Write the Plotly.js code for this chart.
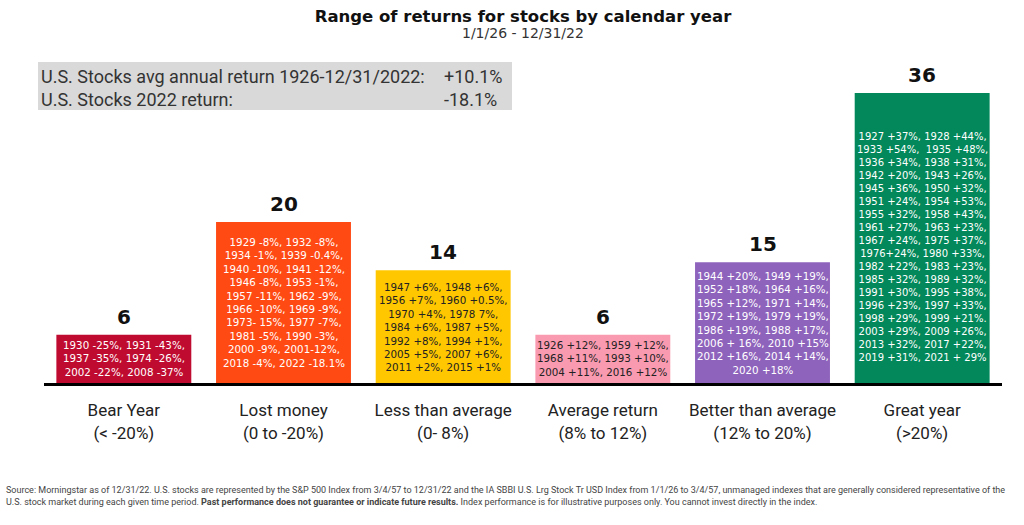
<!DOCTYPE html>
<html>
<head>
<meta charset="utf-8">
<script src="https://cdn.plot.ly/plotly-3.0.1.min.js"></script>
<style>html,body{margin:0;padding:0;background:#fff;}#chart{width:1024px;height:525px;}</style>
</head>
<body>
<div id="chart"></div>
<script>
// ---- data ----
const categories = ["Bear Year", "Lost money", "Less than average", "Average return", "Better than average", "Great year"];
const ranges = ["(< -20%)", "(0 to -20%)", "(0- 8%)", "(8% to 12%)", "(12% to 20%)", "(>20%)"];
const counts = [6, 20, 14, 6, 15, 36];
const yearLists = [
  ["1930 -25%, 1931 -43%,", "1937 -35%, 1974 -26%,", "2002 -22%, 2008 -37%"],
  ["1929 -8%, 1932 -8%,", "1934 -1%, 1939 -0.4%,", "1940 -10%, 1941 -12%,", "1946 -8%, 1953 -1%,", "1957 -11%, 1962 -9%,", "1966 -10%, 1969 -9%,", "1973- 15%, 1977 -7%,", "1981 -5%, 1990 -3%,", "2000 -9%, 2001-12%,", "2018 -4%, 2022 -18.1%"],
  ["1947 +6%, 1948 +6%,", "1956 +7%, 1960 +0.5%,", "1970 +4%, 1978 7%,", "1984 +6%, 1987 +5%,", "1992 +8%, 1994 +1%,", "2005 +5%, 2007 +6%,", "2011 +2%, 2015 +1%"],
  ["1926 +12%, 1959 +12%,", "1968 +11%, 1993 +10%,", "2004 +11%, 2016 +12%"],
  ["1944 +20%, 1949 +19%,", "1952 +18%, 1964 +16%,", "1965 +12%, 1971 +14%,", "1972 +19%, 1979 +19%,", "1986 +19%, 1988 +17%,", "2006 + 16%, 2010 +15%", "2012 +16%, 2014 +14%,", "2020 +18%"],
  ["1927 +37%, 1928 +44%,", "1933 +54%,  1935 +48%,", "1936 +34%, 1938 +31%,", "1942 +20%, 1943 +26%,", "1945 +36%, 1950 +32%,", "1951 +24%, 1954 +53%,", "1955 +32%, 1958 +43%,", "1961 +27%, 1963 +23%,", "1967 +24%, 1975 +37%,", "1976+24%, 1980 +33%,", "1982 +22%, 1983 +23%,", "1985 +32%, 1989 +32%,", "1991 +30%, 1995 +38%,", "1996 +23%, 1997 +33%,", "1998 +29%, 1999 +21%.", "2003 +29%, 2009 +26%,", "2013 +32%, 2017 +22%,", "2019 +31%, 2021 + 29%"]
];
const infoLabels = ["U.S. Stocks avg annual return 1926-12/31/2022:", "U.S. Stocks 2022 return:"];
const infoValues = ["+10.1%", "-18.1%"];
const titleText = "Range of returns for stocks by calendar year";
const subtitleText = "1/1/26 - 12/31/22";
const footerLines = [
  "Source: Morningstar as of 12/31/22. U.S. stocks are represented by the S&P 500 Index from 3/4/57 to 12/31/22 and the IA SBBI U.S. Lrg Stock Tr USD Index from 1/1/26 to 3/4/57, unmanaged indexes that are generally considered representative of the",
  "U.S. stock market during each given time period. <b>Past performance does not guarantee or indicate future results.</b> Index performance is for illustrative purposes only. You cannot invest directly in the index."
];

// ---- styling ----
const barColors = ["#C00B30", "#FF4A14", "#FFC700", "#F99AB0", "#8E63BC", "#02885A"];
const textColors = ["#ffffff", "#ffffff", "#222222", "#222222", "#ffffff", "#ffffff"];

const W = 1024, H = 525;
const M = {l: 44, r: 22, t: 93, b: 142};
const pw = W - M.l - M.r, ph = H - M.t - M.b;
const px = x => (x - M.l) / pw;
const py = y => (H - M.b - y) / ph;

const trace = {
  type: "bar",
  x: categories,
  y: counts,
  marker: {color: barColors, line: {width: 0}},
  hoverinfo: "none"
};

const annotations = [];
categories.forEach((c, i) => {
  annotations.push({
    x: c, y: counts[i], xref: "x", yref: "y",
    text: "<b>" + counts[i] + "</b>", showarrow: false,
    yanchor: "bottom", yshift: 4,
    font: {family: "DejaVu Sans", size: 20, color: "#111"}
  });
  annotations.push({
    x: c, y: counts[i] / 2, xref: "x", yref: "y",
    text: yearLists[i].join("<br>"), showarrow: false,
    yanchor: "middle", yshift: i === 5 ? -9 : 0,
    font: {family: "DejaVu Sans", size: i === 5 ? 10 : 10.3, color: textColors[i]}
  });
});
annotations.push({
  x: 0.5, y: py(33), xref: "paper", yref: "paper", text: subtitleText, showarrow: false,
  xanchor: "center", yanchor: "middle",
  font: {family: "DejaVu Sans", size: 14, color: "#333"}
});
infoLabels.forEach((t, i) => {
  const yy = [76, 99][i];
  annotations.push({
    x: px(39), y: py(yy), xref: "paper", yref: "paper", text: t, showarrow: false,
    xanchor: "left", yanchor: "middle",
    font: {family: "Roboto", size: 18, color: "#333"}
  });
  annotations.push({
    x: px(442), y: py(yy), xref: "paper", yref: "paper", text: infoValues[i], showarrow: false,
    xanchor: "left", yanchor: "middle",
    font: {family: "Roboto", size: 18, color: "#333"}
  });
});
annotations.push({
  x: px(4), y: py(483), xref: "paper", yref: "paper", text: footerLines.join("<br>"), showarrow: false,
  xanchor: "left", yanchor: "top", align: "left",
  font: {family: "Roboto", size: 9, color: "#444"}
});

const layout = {
  width: W, height: H,
  margin: M,
  paper_bgcolor: "#fff", plot_bgcolor: "#fff",
  showlegend: false,
  bargap: 0.155,
  title: {
    text: "<b>" + titleText + "</b>",
    x: 0.5, xref: "paper", xanchor: "center",
    y: 1 - 16 / H, yref: "container", yanchor: "middle",
    font: {family: "DejaVu Sans", size: 16.5, color: "#111"}
  },
  xaxis: {
    type: "category",
    range: [-0.5, 5.5],
    tickvals: categories,
    ticktext: categories.map((c, i) => c + "<br>" + ranges[i]),
    tickfont: {family: "Roboto", size: 17, color: "#222"},
    ticks: "outside", ticklen: 10, tickcolor: "rgba(0,0,0,0)",
    showline: true, linecolor: "#000", linewidth: 3,
    showgrid: false, zeroline: false, fixedrange: true
  },
  yaxis: {
    range: [0, 36], visible: false, showgrid: false, zeroline: false, fixedrange: true
  },
  shapes: [{
    type: "rect", xref: "paper", yref: "paper", layer: "below",
    x0: px(38), x1: px(512), y0: py(110), y1: py(62),
    fillcolor: "#D9D9D9", line: {width: 0}
  }],
  annotations: annotations
};

Plotly.newPlot("chart", [trace], layout, {displayModeBar: false, staticPlot: true});
</script>
</body>
</html>
